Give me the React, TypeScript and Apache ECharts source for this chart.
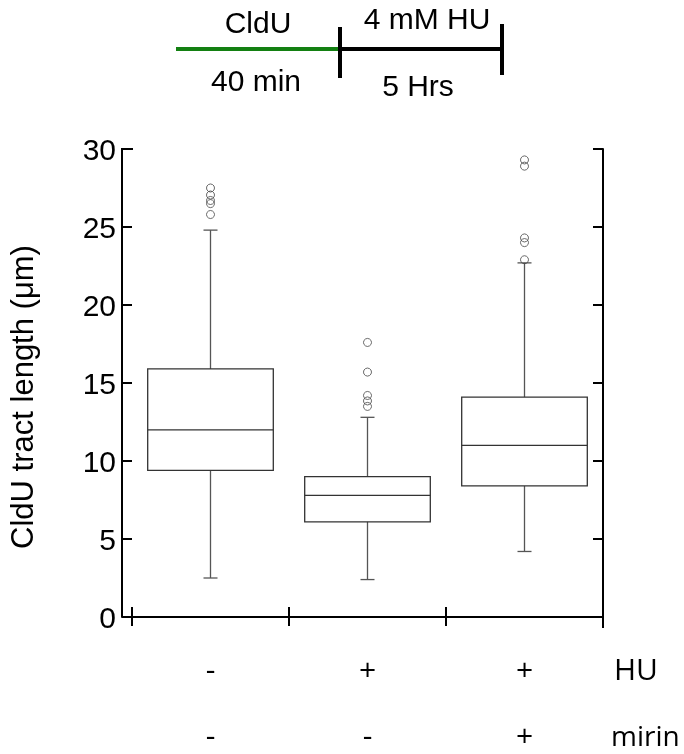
import React, { useEffect, useRef } from "react";
import * as echarts from "echarts";

const categories = ["HU- mirin-", "HU+ mirin-", "HU+ mirin+"];
const huSigns = ["-", "+", "+"];
const mirinSigns = ["-", "-", "+"];
const lowerWhisker = [2.5, 2.4, 4.2];
const q1 = [9.4, 6.1, 8.4];
const median = [12.0, 7.8, 11.0];
const q3 = [15.9, 9.0, 14.1];
const upperWhisker = [24.8, 12.8, 22.7];
const outliers1 = [25.8, 26.5, 26.7, 27.05, 27.5];
const outliers2 = [13.5, 13.85, 14.2, 15.7, 17.6];
const outliers3 = [22.9, 24.0, 24.3, 28.9, 29.3];
const yMin = 0;
const yMax = 30;
const yInterval = 5;

const FONT = "'Liberation Sans', Arial, Helvetica, sans-serif";
const FONT2 = "'Open Sans', 'Liberation Sans', Arial, sans-serif";

export default function App() {
  const ref = useRef<HTMLDivElement>(null);
  useEffect(() => {
    if (!ref.current) return;
    const chart = echarts.init(ref.current, null, { renderer: "svg" });
    const boxData = categories.map((_, i) => [i, lowerWhisker[i], q1[i], median[i], q3[i], upperWhisker[i]]);
    const outlierData: number[][] = [];
    [outliers1, outliers2, outliers3].forEach((arr, i) => arr.forEach((v) => outlierData.push([i, v])));

    const axisLineStyle = { color: "#000", width: 2 };
    chart.setOption({
      animation: false,
      grid: { left: 132, top: 149, width: 471, height: 468, containLabel: false, outerBoundsMode: "none" },
      xAxis: [
        {
          type: "category",
          data: categories,
          position: "bottom",
          offset: 10,
          boundaryGap: true,
          axisLine: { show: true, lineStyle: axisLineStyle },
          axisTick: { show: true, inside: true, length: 10, lineStyle: axisLineStyle },
          axisLabel: {
            show: true,
            interval: 0,
            margin: 25,
            fontSize: 30,
            lineHeight: 33,
            color: "#000",
            fontFamily: FONT2,
            formatter: (_v: string, idx: number) => `${huSigns[idx]}\n\n${mirinSigns[idx]}`,
          },
          splitLine: { show: false },
        },
        {
          type: "category",
          data: categories,
          position: "top",
          offset: 0,
          boundaryGap: true,
          axisLine: { show: true, lineStyle: axisLineStyle },
          axisTick: { show: true, inside: true, length: 9, lineStyle: axisLineStyle },
          axisLabel: { show: false },
          splitLine: { show: false },
        },
      ],
      yAxis: [
        {
          type: "value",
          min: yMin,
          max: yMax,
          interval: yInterval,
          position: "left",
          offset: 10,
          axisLine: { show: true, lineStyle: axisLineStyle },
          axisTick: { show: true, inside: true, length: 10, lineStyle: axisLineStyle },
          axisLabel: { fontSize: 30, color: "#000", fontFamily: FONT, margin: 6 },
          splitLine: { show: false },
        },
        {
          type: "value",
          min: yMin,
          max: yMax,
          interval: yInterval,
          position: "right",
          offset: 0,
          axisLine: { show: true, lineStyle: axisLineStyle },
          axisTick: { show: true, inside: true, length: 10, lineStyle: axisLineStyle },
          axisLabel: { show: false },
          splitLine: { show: false },
        },
      ],
      series: [
        {
          type: "custom",
          xAxisIndex: 0,
          yAxisIndex: 0,
          data: boxData,
          encode: { x: 0, y: [1, 2, 3, 4, 5] },
          renderItem: (_params: any, api: any) => {
            const idx = api.value(0);
            const pLow = api.coord([idx, api.value(1)]);
            const pQ1 = api.coord([idx, api.value(2)]);
            const pMed = api.coord([idx, api.value(3)]);
            const pQ3 = api.coord([idx, api.value(4)]);
            const pHigh = api.coord([idx, api.value(5)]);
            const band = api.size([1, 0])[0];
            const half = band * 0.4;
            const cap = 7;
            const cx = pMed[0];
            const boxStyle = { stroke: "#333", lineWidth: 1.3, fill: "none" };
            const wStyle = { stroke: "#555", lineWidth: 1.3 };
            return {
              type: "group",
              children: [
                { type: "line", shape: { x1: cx, y1: pQ3[1], x2: cx, y2: pHigh[1] }, style: wStyle },
                { type: "line", shape: { x1: cx - cap, y1: pHigh[1], x2: cx + cap, y2: pHigh[1] }, style: wStyle },
                { type: "line", shape: { x1: cx, y1: pQ1[1], x2: cx, y2: pLow[1] }, style: wStyle },
                { type: "line", shape: { x1: cx - cap, y1: pLow[1], x2: cx + cap, y2: pLow[1] }, style: wStyle },
                { type: "rect", shape: { x: cx - half, y: pQ3[1], width: 2 * half, height: pQ1[1] - pQ3[1] }, style: boxStyle },
                { type: "line", shape: { x1: cx - half, y1: pMed[1], x2: cx + half, y2: pMed[1] }, style: boxStyle },
              ],
            };
          },
        },
        {
          type: "scatter",
          xAxisIndex: 0,
          yAxisIndex: 0,
          data: outlierData,
          symbol: "circle",
          symbolSize: 8,
          itemStyle: { color: "rgba(0,0,0,0)", borderColor: "#444", borderWidth: 1 },
        },
      ],
      graphic: [
        // frame extensions
        { type: "line", shape: { x1: 121, y1: 149, x2: 133, y2: 149 }, style: { stroke: "#000", lineWidth: 2 } },
        { type: "line", shape: { x1: 603, y1: 616, x2: 603, y2: 628 }, style: { stroke: "#000", lineWidth: 2 } },
        // y axis title
        {
          type: "text",
          x: 22,
          y: 397,
          rotation: Math.PI / 2,
          style: { text: "CldU tract length (μm)", fill: "#000", font: `31px ${FONT}`, align: "center", verticalAlign: "middle" },
        },
        // schematic
        { type: "line", shape: { x1: 176, y1: 49, x2: 338, y2: 49 }, style: { stroke: "#138012", lineWidth: 4 } },
        { type: "line", shape: { x1: 338, y1: 49, x2: 502, y2: 49 }, style: { stroke: "#000", lineWidth: 4 } },
        { type: "line", shape: { x1: 340, y1: 27, x2: 340, y2: 78 }, style: { stroke: "#000", lineWidth: 4 } },
        { type: "line", shape: { x1: 502, y1: 24, x2: 502, y2: 75 }, style: { stroke: "#000", lineWidth: 4 } },
        { type: "text", x: 258, y: 22, style: { text: "CldU", fill: "#000", font: `30px ${FONT}`, align: "center", verticalAlign: "middle" } },
        { type: "text", x: 427, y: 18, style: { text: "4 mM HU", fill: "#000", font: `30px ${FONT}`, align: "center", verticalAlign: "middle" } },
        { type: "text", x: 256, y: 80, style: { text: "40 min", fill: "#000", font: `30px ${FONT}`, align: "center", verticalAlign: "middle" } },
        { type: "text", x: 418, y: 85, style: { text: "5 Hrs", fill: "#000", font: `30px ${FONT}`, align: "center", verticalAlign: "middle" } },
        // row names
        { type: "text", x: 614, y: 668, style: { text: "HU", fill: "#000", font: `30px ${FONT2}`, align: "left", verticalAlign: "middle" } },
        { type: "text", x: 611, y: 735, style: { text: "mirin", fill: "#000", font: `28px ${FONT2}`, align: "left", verticalAlign: "middle" } },
      ],
    });
    return () => chart.dispose();
  }, []);
  return <div ref={ref} style={{ position: "fixed", left: 0, top: 0, width: 684, height: 754 }} />;
}
